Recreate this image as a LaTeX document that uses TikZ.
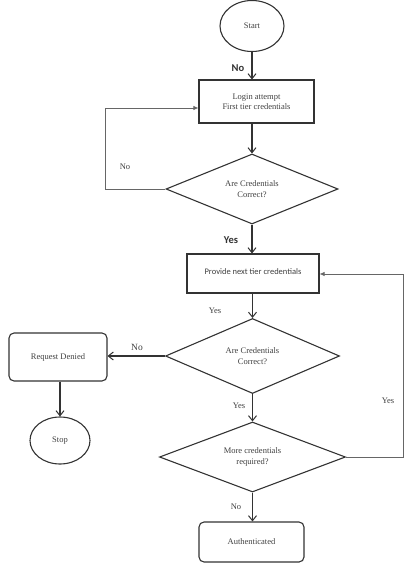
\documentclass[tikz,border=0pt]{standalone}
\usepackage{fontspec}
\setmainfont{Liberation Serif}
\newfontfamily\lblsans{Carlito}
\usetikzlibrary{shapes.geometric,arrows.meta}
\begin{document}
\begin{tikzpicture}[x=1pt,y=-1pt,
  every node/.style={font=\fontsize{8.5}{10.5}\selectfont, text=black!75},
  ln/.style={draw=black!80, line width=1.1pt},
  arr/.style={ln, -{Straight Barb[length=5pt,width=8pt,line width=1pt]}},
  loop/.style={draw=black!60, line width=0.8pt, -{Latex[length=5pt,width=4.5pt]}},
  term/.style={ellipse, ln, inner sep=0pt},
  procbox/.style={rectangle, ln, inner sep=0pt, align=center},
  roundbox/.style={rectangle, rounded corners=5pt, ln, inner sep=0pt, align=center},
  decision/.style={diamond, ln, inner sep=0pt, shape aspect=2.3, align=center},
  lbl/.style={font=\fontsize{8.5}{10}\selectfont},
  blbl/.style={font=\lblsans\bfseries\fontsize{10.5}{12}\selectfont, text=black!80}
]
\useasboundingbox (0,0) rectangle (411,569);
\fill[white] (0,0) rectangle (411,569);

\node[term, minimum width=64pt, minimum height=51pt] (start) at (252,26) {Start};
\node[procbox, minimum width=115pt, minimum height=43pt] (login) at (256.5,101.5) {Login attempt\\First tier credentials};
\node[decision, minimum width=172pt, minimum height=70pt] (d1) at (252,189) {Are Credentials\\Correct?};
\node[procbox, minimum width=132pt, minimum height=39pt, font=\lblsans\fontsize{8.5}{10}\selectfont] (prov) at (253,273.5) {\raisebox{4pt}{Provide next tier credentials}};
\node[decision, minimum width=174pt, minimum height=75pt] (d2) at (252.5,356) {Are Credentials\\Correct?};
\node[roundbox, minimum width=98pt, minimum height=48pt] (denied) at (58,357) {Request Denied};
\node[term, minimum width=60pt, minimum height=47pt] (stop) at (60,440.5) {Stop};
\node[decision, minimum width=186pt, minimum height=70pt] (d3) at (252.5,457) {More credentials\\required?};
\node[roundbox, minimum width=105pt, minimum height=40pt] (auth) at (251.5,542) {Authenticated};

\draw[arr] (start.south) -- (start.south |- login.north);
\draw[arr] (login.south -| start.south) -- (d1.north);
\draw[arr] (d1.south) -- (d1.south |- prov.north);
\draw[arr] (prov.south -| d2.north) -- (d2.north);
\draw[arr] (d2.west) -- (denied.east |- d2.west);
\draw[arr] (denied.south -| stop.north) -- (stop.north);
\draw[arr] (d2.south) -- (d3.north);
\draw[arr] (d3.south) -- (d3.south |- auth.north);

\coordinate (lc) at (105,108);
\draw[loop] (d1.west) -| (lc) -- (login.west |- lc);
\coordinate (rc) at (403,274);
\draw[loop] (d3.east) -| (rc) -- (prov.east |- rc);

\node[blbl] at (238,68) {No};
\node[blbl] at (231,240) {Yes};
\node[lbl] at (125,167) {No};
\node[lbl] at (215,311) {Yes};
\node[lbl, font=\fontsize{9.5}{11}\selectfont] at (137,347) {No};
\node[lbl] at (239,406) {Yes};
\node[lbl] at (388,401) {Yes};
\node[lbl] at (236,507) {No};
\end{tikzpicture}
\end{document}
